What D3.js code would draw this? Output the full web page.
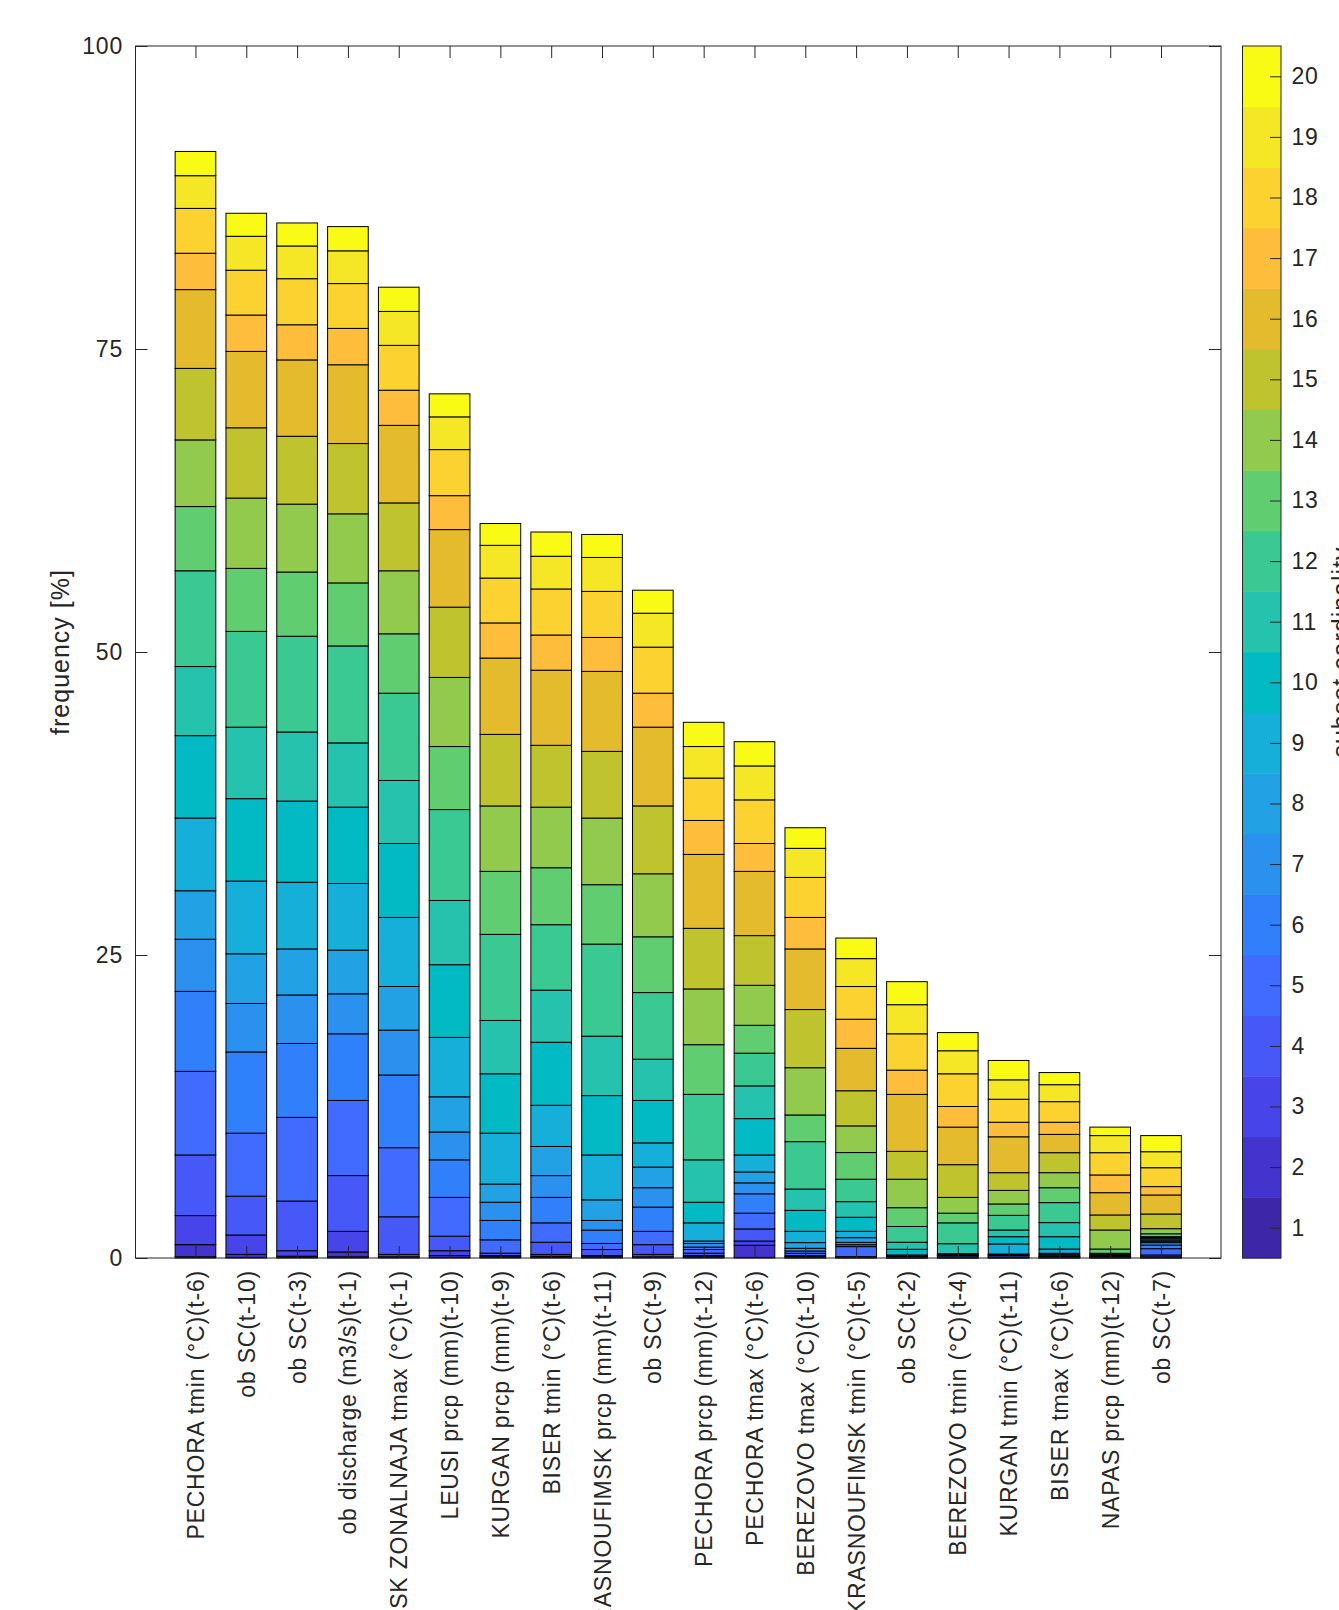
<!DOCTYPE html>
<html>
<head>
<meta charset="utf-8">
<script src="https://cdn.jsdelivr.net/npm/d3@7"></script>
<style>
  body { margin: 0; background: #fff; }
  svg { display: block; font-family: "Liberation Sans", Arial, sans-serif; }
</style>
</head>
<body>
<svg></svg>
<script>
const w = 1339;
const h = 1610;
const svg = d3.select('svg').attr('width', w).attr('height', h);

const predictors = [
  'PECHORA tmin (°C)(t-6)',
  'ob SC(t-10)',
  'ob SC(t-3)',
  'ob discharge (m3/s)(t-1)',
  'OMSK ZONALNAJA tmax (°C)(t-1)',
  'LEUSI prcp (mm)(t-10)',
  'KURGAN prcp (mm)(t-9)',
  'BISER tmin (°C)(t-6)',
  'KRASNOUFIMSK prcp (mm)(t-11)',
  'ob SC(t-9)',
  'PECHORA prcp (mm)(t-12)',
  'PECHORA tmax (°C)(t-6)',
  'BEREZOVO tmax (°C)(t-10)',
  'KRASNOUFIMSK tmin (°C)(t-5)',
  'ob SC(t-2)',
  'BEREZOVO tmin (°C)(t-4)',
  'KURGAN tmin (°C)(t-11)',
  'BISER tmax (°C)(t-6)',
  'NAPAS prcp (mm)(t-12)',
  'ob SC(t-7)'
];

const cardinality = d3.range(1, 21);
const yTicks = [0, 25, 50, 75, 100];

// frequency [%] per subset cardinality 1..20, one row per predictor (same order as above)
const freq = [
  [0.1, 1.0, 2.4, 5.0, 6.9, 6.6, 4.3, 4.0, 6.0, 6.8, 5.7, 7.9, 5.3, 5.5, 5.9, 6.5, 3.0, 3.7, 2.7, 2.0],
  [0.05, 0.25, 1.6, 3.2, 5.2, 6.7, 4.0, 4.1, 6.0, 6.8, 5.9, 7.9, 5.2, 5.8, 5.8, 6.3, 3.0, 3.7, 2.8, 1.9],
  [0.05, 0.1, 0.45, 4.1, 6.9, 6.1, 4.0, 3.8, 5.5, 6.7, 5.7, 7.9, 5.3, 5.6, 5.6, 6.3, 2.9, 3.8, 2.7, 1.9],
  [0.1, 0.4, 1.7, 4.6, 6.2, 5.5, 3.3, 3.6, 5.5, 6.3, 5.3, 8.0, 5.2, 5.7, 5.8, 6.5, 3.0, 3.7, 2.7, 2.0],
  [0.05, 0.05, 0.2, 3.1, 5.7, 6.0, 3.7, 3.6, 5.7, 6.1, 5.2, 7.2, 4.9, 5.2, 5.6, 6.4, 2.9, 3.7, 2.8, 2.0],
  [0.05, 0.15, 0.4, 1.2, 3.2, 3.1, 2.3, 2.9, 4.9, 6.0, 5.3, 7.5, 5.2, 5.7, 5.8, 6.4, 2.8, 3.8, 2.7, 1.9],
  [0.05, 0.05, 0.1, 0.2, 1.1, 1.6, 1.5, 1.5, 4.2, 4.9, 4.4, 7.1, 5.2, 5.4, 5.9, 6.3, 2.9, 3.7, 2.7, 1.8],
  [0.05, 0.09, 0.16, 1.0, 1.6, 2.1, 1.8, 2.4, 3.4, 5.2, 4.3, 5.4, 4.7, 5.0, 5.1, 6.2, 2.9, 3.8, 2.7, 2.0],
  [0.05, 0.05, 0.1, 0.5, 0.5, 1.1, 0.8, 1.7, 3.7, 4.9, 4.9, 7.6, 4.9, 5.5, 5.5, 6.6, 2.8, 3.8, 2.8, 1.9],
  [0.05, 0.05, 0.2, 0.8, 1.1, 2.0, 1.6, 1.7, 2.0, 3.5, 3.4, 5.5, 4.6, 5.2, 5.6, 6.5, 2.8, 3.8, 2.8, 1.9],
  [0.05, 0.05, 0.1, 0.2, 0.3, 0.2, 0.3, 0.2, 1.5, 1.7, 3.5, 5.4, 4.1, 4.6, 5.0, 6.1, 2.8, 3.5, 2.6, 2.0],
  [0.05, 1.0, 0.35, 1.0, 1.3, 1.6, 0.9, 0.9, 1.4, 3.0, 2.7, 2.7, 2.3, 3.3, 4.1, 5.3, 2.3, 3.6, 2.8, 2.0],
  [0.02, 0.03, 0.05, 0.09, 0.2, 0.19, 0.22, 0.47, 0.93, 1.73, 1.76, 3.91, 2.2, 3.9, 4.8, 5.0, 2.6, 3.3, 2.4, 1.7],
  [0.02, 0.02, 0.03, 0.04, 0.83, 0.16, 0.19, 0.39, 0.52, 1.16, 1.29, 1.85, 2.2, 2.2, 2.9, 3.5, 2.4, 2.7, 2.3, 1.7],
  [0.01, 0.01, 0.01, 0.01, 0.08, 0.02, 0.02, 0.03, 0.06, 0.47, 0.58, 1.3, 1.55, 2.35, 2.3, 4.7, 2.0, 3.0, 2.4, 1.9],
  [0.01, 0.01, 0.01, 0.02, 0.12, 0.04, 0.04, 0.04, 0.04, 0.03, 0.82, 1.72, 0.8, 1.3, 2.7, 3.1, 1.7, 2.7, 1.9, 1.5],
  [0.01, 0.01, 0.02, 0.04, 0.12, 0.05, 0.04, 0.04, 0.83, 0.6, 0.55, 1.21, 0.94, 1.12, 1.46, 2.96, 1.2, 1.9, 1.6, 1.6],
  [0.01, 0.02, 0.03, 0.04, 0.04, 0.05, 0.11, 0.09, 0.35, 1.02, 1.16, 1.65, 1.23, 1.24, 1.65, 1.51, 1.0, 1.7, 1.4, 1.0],
  [0.01, 0.01, 0.02, 0.02, 0.02, 0.02, 0.02, 0.03, 0.04, 0.06, 0.05, 0.09, 0.35, 1.57, 1.24, 1.84, 1.46, 1.84, 1.41, 0.7],
  [0.01, 0.02, 0.07, 0.15, 0.52, 0.3, 0.2, 0.11, 0.11, 0.11, 0.1, 0.06, 0.24, 0.42, 1.21, 1.57, 0.69, 1.56, 1.32, 1.33]
];

// parula(20)
const parula = [
  '#3e26a8', '#4434ce', '#4745e9', '#4758f8', '#416bfe', '#307ffb', '#2b91ef',
  '#22a1e4', '#15afd9', '#02bac4', '#25c2ad', '#3bc993', '#61cd71', '#91ca4d',
  '#bec32e', '#e4bb2c', '#febe3c', '#fbd22f', '#f5e725', '#f9fb15'
];

const axisColor = '#262626';
const plotLeft = 135.5, plotRight = 1221, plotTop = 46, plotBottom = 1258;
const tick = 12;

const x = d3.scaleLinear().domain([-0.18, 21.18]).range([plotLeft, plotRight]);
const y = d3.scaleLinear().domain([0, 100]).range([plotBottom, plotTop]);
const color = d3.scaleOrdinal().domain(cardinality).range(parula);

const table = predictors.map((name, i) => {
  const row = { name: name, idx: i + 1 };
  cardinality.forEach((c, j) => { row[c] = freq[i][j]; });
  return row;
});
const series = d3.stack().keys(cardinality)(table);

// stacked bars
svg.append('g')
  .selectAll('g')
  .data(series)
  .join('g')
  .attr('fill', (d) => color(d.key))
  .selectAll('rect')
  .data((d) => d)
  .join('rect')
  .attr('x', (d) => x(d.data.idx - 0.4))
  .attr('width', x(0.8) - x(0))
  .attr('y', (d) => y(d[1]))
  .attr('height', (d) => y(d[0]) - y(d[1]))
  .attr('stroke', '#000')
  .attr('stroke-width', 1);

function styleAxis(g) {
  g.select('.domain').remove();
  g.selectAll('line').attr('stroke', axisColor);
  g.selectAll('text')
    .attr('fill', axisColor)
    .style('font-size', '23px')
    .style('letter-spacing', '0.8px');
}

// y axis left + mirrored right
svg.append('g')
  .attr('transform', `translate(${plotLeft}, 0)`)
  .call(d3.axisLeft(y).tickValues(yTicks).tickSize(-tick).tickPadding(12.5))
  .call(styleAxis);
svg.append('g')
  .attr('transform', `translate(${plotRight}, 0)`)
  .call(d3.axisRight(y).tickValues(yTicks).tickSize(-tick).tickFormat(''))
  .call(styleAxis);

// x axis bottom with rotated labels + mirrored top
svg.append('g')
  .attr('transform', `translate(0, ${plotBottom})`)
  .call(d3.axisBottom(x).tickValues(cardinality).tickSize(-tick)
    .tickFormat((d) => predictors[d - 1]))
  .call(styleAxis)
  .selectAll('text')
  .attr('transform', 'rotate(-90)')
  .attr('text-anchor', 'end')
  .attr('x', -12)
  .attr('y', 0)
  .attr('dy', '0.35em');
svg.append('g')
  .attr('transform', `translate(0, ${plotTop})`)
  .call(d3.axisTop(x).tickValues(cardinality).tickSize(-tick).tickFormat(''))
  .call(styleAxis);

// box
svg.append('rect')
  .attr('x', plotLeft).attr('y', plotTop)
  .attr('width', plotRight - plotLeft).attr('height', plotBottom - plotTop)
  .attr('fill', 'none').attr('stroke', axisColor).attr('stroke-width', 1);

svg.append('text')
  .attr('transform', `translate(69, ${(plotTop + plotBottom) / 2}) rotate(-90)`)
  .attr('text-anchor', 'middle')
  .attr('fill', axisColor)
  .style('font-size', '25px')
  .style('letter-spacing', '1px')
  .text('frequency [%]');

// colorbar
const cbLeft = 1242.5, cbRight = 1281;
const cb = d3.scaleLinear().domain([0.5, 20.5]).range([plotBottom, plotTop]);

svg.append('g')
  .selectAll('rect')
  .data(cardinality)
  .join('rect')
  .attr('x', cbLeft)
  .attr('width', cbRight - cbLeft)
  .attr('y', (d) => cb(d + 0.5))
  .attr('height', (d) => cb(d - 0.5) - cb(d + 0.5) + 0.5)
  .attr('fill', (d) => color(d));

svg.append('g')
  .attr('transform', `translate(${cbRight}, 0)`)
  .call(d3.axisRight(cb).tickValues(cardinality).tickSize(-11).tickPadding(10.5))
  .call(styleAxis);

svg.append('rect')
  .attr('x', cbLeft).attr('y', plotTop)
  .attr('width', cbRight - cbLeft).attr('height', plotBottom - plotTop)
  .attr('fill', 'none').attr('stroke', axisColor).attr('stroke-width', 1);

svg.append('text')
  .attr('transform', `translate(1350, ${(plotTop + plotBottom) / 2}) rotate(-90)`)
  .attr('text-anchor', 'middle')
  .attr('fill', axisColor)
  .style('font-size', '25px')
  .style('letter-spacing', '1px')
  .text('subset cardinality');
</script>
</body>
</html>
